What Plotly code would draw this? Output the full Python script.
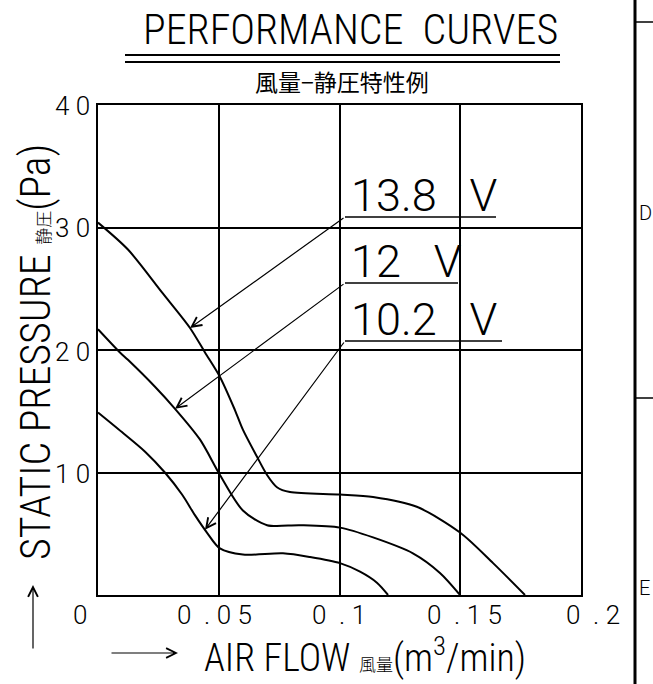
import numpy as np
import plotly.graph_objects as go

# ---------------- data ----------------
x_138 = [0, 0.0124, 0.0265, 0.0381, 0.0443, 0.0505, 0.0567, 0.060, 0.0658, 0.070,
         0.0741, 0.0795, 0.1002, 0.1139, 0.132, 0.1499, 0.1636, 0.1768]
y_138 = [30.4, 28.2, 24.7, 21.8, 19.8, 17.8, 15.1, 13.5, 11.3, 9.8,
         8.8, 8.4, 8.2, 8.0, 7.2, 5.1, 2.6, 0]

x_120 = [0, 0.0091, 0.0124, 0.0236, 0.0319, 0.0422, 0.0505, 0.060, 0.070, 0.0836,
         0.1002, 0.1139, 0.1304, 0.1416, 0.1499]
y_120 = [21.7, 19.8, 19.2, 17.0, 15.2, 12.7, 9.8, 6.9, 5.7, 5.7,
         5.5, 4.7, 3.4, 1.8, 0]

x_102 = [0, 0.0099, 0.0195, 0.0277, 0.0348, 0.0402, 0.0451, 0.0505, 0.060, 0.0766,
         0.0878, 0.1002, 0.1085, 0.1155, 0.1201]
y_102 = [14.9, 13.3, 11.7, 10.0, 8.2, 6.5, 5.1, 3.8, 3.3, 3.4,
         3.1, 2.6, 1.9, 1.0, 0]

series_names = ["13.8 V", "12 V", "10.2 V"]
series_x = [x_138, x_120, x_102]
series_y = [y_138, y_120, y_102]
arrow_target_x = [0.0381, 0.0319, 0.0443]

x_tick_vals = [0, 0.05, 0.1, 0.15, 0.2]
x_tick_text = ["0", "0.05", "0.1", "0.15", "0.2"]
y_tick_vals = [10, 20, 30, 40]
y_tick_text = ["10", "20", "30", "40"]

# ---------------- layout geometry (page pixels) ----------------
W, H = 653, 684
L, R, T, B = 98, 581, 105, 595
XMAX, YMAX = 0.2, 40
NB = "\u00a0"

def px2x(px):
    return (px - L) / (R - L) * XMAX

def py2y(py):
    return (B - py) / (B - T) * YMAX

def px2p(px):
    return (px - L) / (R - L)

def py2p(py):
    return (B - py) / (B - T)

def spaced(t):
    # drafting-style wide character pitch
    return NB.join(t).replace(NB + ".", NB + NB + ".")

def wide_gap(t):
    return t.replace(" ", NB * 3)

COND_A = "Roboto Condensed, Noto Sans Condensed, Liberation Sans"
COND_B = "Noto Sans Condensed, Roboto Condensed, Liberation Sans"
LIGHT = "Roboto, Liberation Sans, sans-serif"
CJK = "Noto Sans CJK JP, sans-serif"

fig = go.Figure()
for xs, ys in zip(series_x, series_y):
    fig.add_trace(go.Scatter(x=xs, y=ys, mode="lines",
                             line=dict(color="black", width=2, shape="spline", smoothing=0.8),
                             hoverinfo="skip", showlegend=False))

annotations = []
shapes = []

# tick labels
x_label_shift = [-27, -44, -30, -35, -17]
for v, t, s in zip(x_tick_vals, x_tick_text, x_label_shift):
    annotations.append(dict(x=v, y=py2p(615), xref="x", yref="paper", text=spaced(t),
                            showarrow=False, xanchor="left", yanchor="middle", xshift=s,
                            font=dict(family=LIGHT, size=26, color="black", weight=300)))
y_label_pos = [474, 352, 228, 106]
for v, t, py in zip(y_tick_vals, y_tick_text, y_label_pos):
    annotations.append(dict(x=px2p(53), y=py2p(py), xref="paper", yref="paper",
                            text=spaced(t), showarrow=False,
                            xanchor="left", yanchor="middle",
                            font=dict(family=LIGHT, size=26, color="black", weight=300)))

# series labels, underlines and arrows
label_under_y = [217, 283, 341]
label_under_x2 = [496, 458, 502]
for name, xs, ys, tx, uy, ux2 in zip(series_names, series_x, series_y, arrow_target_x,
                                     label_under_y, label_under_x2):
    ty = float(np.interp(tx, xs, ys))
    shapes.append(dict(type="line", xref="x", yref="y", x0=px2x(345), x1=px2x(ux2),
                       y0=py2y(uy), y1=py2y(uy), line=dict(color="black", width=1.5)))
    annotations.append(dict(x=px2x(349), y=py2y(uy + 7), xref="x", yref="y", text=wide_gap(name),
                            showarrow=False, xanchor="left", yanchor="bottom",
                            font=dict(family=LIGHT, size=45, color="black", weight=300)))
    annotations.append(dict(x=tx, y=ty, xref="x", yref="y", ax=px2x(345), ay=py2y(uy),
                            axref="x", ayref="y", text="", showarrow=True,
                            arrowhead=5, arrowsize=1.6, arrowwidth=1.2, arrowcolor="black"))

# title and subtitle
annotations.append(dict(x=px2p(350), y=py2p(30), xref="paper", yref="paper",
                        text="PERFORMANCE" + NB + NB + "CURVES", showarrow=False,
                        xanchor="center", yanchor="middle",
                        font=dict(family=COND_A, size=42, color="black", weight=300)))
for ly in (55, 62):
    shapes.append(dict(type="line", xref="paper", yref="paper", x0=px2p(125), x1=px2p(560),
                       y0=py2p(ly), y1=py2p(ly), line=dict(color="black", width=2)))
annotations.append(dict(x=px2p(342), y=py2p(81), xref="paper", yref="paper",
                        text="風量−静圧特性例", showarrow=False,
                        xanchor="center", yanchor="middle",
                        font=dict(family=CJK, size=23, color="black")))

# axis titles
annotations.append(dict(x=px2p(202), y=py2p(655), xref="paper", yref="paper",
                        text="AIR FLOW <span style='font-size:17px;font-family:Noto Sans CJK JP'>風量</span>(m<sup>3</sup>/min)",
                        showarrow=False, xanchor="left", yanchor="middle",
                        font=dict(family=COND_A, size=38, color="black", weight=300)))
annotations.append(dict(x=px2p(178), y=py2p(653), xref="paper", yref="paper",
                        ax=-68, ay=0, text="", showarrow=True,
                        arrowhead=5, arrowsize=1.6, arrowwidth=1.2, arrowcolor="black"))
annotations.append(dict(x=px2p(35), y=py2p(352), xref="paper", yref="paper",
                        text="STATIC PRESSURE <span style='font-size:17px;font-family:Noto Sans CJK JP'>静圧</span>(Pa)",
                        showarrow=False, textangle=-90, xanchor="center", yanchor="middle",
                        font=dict(family=COND_B, size=42, color="black", weight=300)))
annotations.append(dict(x=px2p(33), y=py2p(585), xref="paper", yref="paper",
                        ax=0, ay=65, text="", showarrow=True,
                        arrowhead=5, arrowsize=1.6, arrowwidth=1.2, arrowcolor="black"))

# right-hand drawing frame
shapes.append(dict(type="line", xref="paper", yref="paper", x0=px2p(635), x1=px2p(635),
                   y0=py2p(0), y1=py2p(684), line=dict(color="black", width=3)))
for ty in (22, 398):
    shapes.append(dict(type="line", xref="paper", yref="paper", x0=px2p(635), x1=px2p(653),
                       y0=py2p(ty), y1=py2p(ty), line=dict(color="black", width=1.5)))
for txt, ty in (("D", 213), ("E", 588)):
    annotations.append(dict(x=px2p(638), y=py2p(ty), xref="paper", yref="paper", text=txt,
                            showarrow=False, xanchor="left", yanchor="middle", borderpad=0,
                            font=dict(family=LIGHT, size=20, color="black", weight=300)))

fig.update_layout(
    width=W, height=H,
    margin=dict(l=L, r=W - R, t=T, b=H - B),
    paper_bgcolor="white", plot_bgcolor="white",
    showlegend=False,
    annotations=annotations, shapes=shapes,
    xaxis=dict(range=[0, XMAX], tickvals=x_tick_vals, showticklabels=False, ticks="",
               showgrid=True, gridcolor="black", gridwidth=2, zeroline=False,
               showline=True, linecolor="black", linewidth=2, mirror=True, fixedrange=True),
    yaxis=dict(range=[0, YMAX], tickvals=[0] + y_tick_vals, showticklabels=False, ticks="",
               showgrid=True, gridcolor="black", gridwidth=2, zeroline=False,
               showline=True, linecolor="black", linewidth=2, mirror=True, fixedrange=True),
)

fig.write_html("out.html", config={"displayModeBar": False},
               post_script="document.body.style.margin='0';document.body.style.overflow='hidden';")
